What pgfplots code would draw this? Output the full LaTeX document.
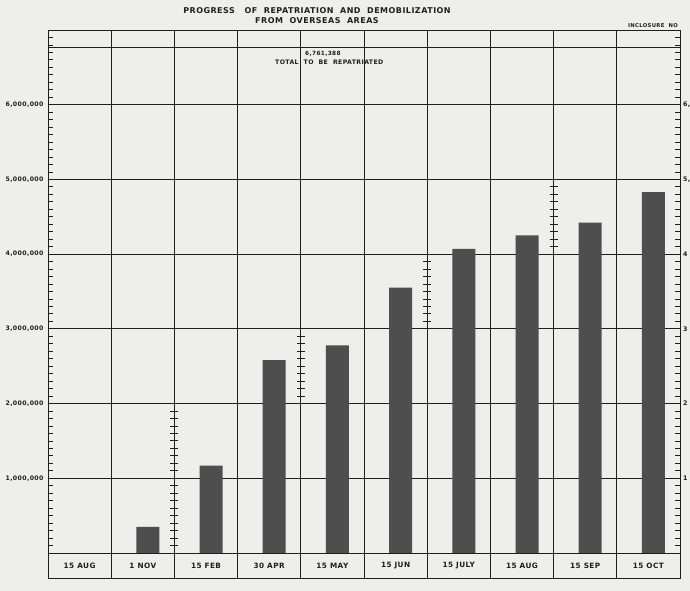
\documentclass[border=0pt]{standalone}
\usepackage{pgfplots}
\pgfplotsset{compat=1.18}
\usepackage{fontspec}
\setmainfont{DejaVu Sans}
\newfontfamily\lab[LetterSpace=6]{DejaVu Sans}
\definecolor{paper}{HTML}{EEEEEC}
\definecolor{ink}{HTML}{1E1E1E}
\definecolor{barcol}{HTML}{4E4E4E}
\tikzset{
  catlab/.style={font=\lab\bfseries\fontsize{7.3}{8}\selectfont, text=ink},
  rlab/.style={font=\lab\bfseries\fontsize{6.3}{7}\selectfont, text=ink, anchor=west, inner sep=0pt, xshift=3pt},
}
\begin{document}
\begin{tikzpicture}
\fill[paper] (-48pt,-13pt) rectangle (642pt,578pt);
\begin{axis}[
  scale only axis,
  width=632pt, height=548pt,
  xmin=-0.5, xmax=9.5,
  ymin=-0.335, ymax=7,
  xtick={-0.5,0.5,...,9.5},
  xticklabels={},
  ytick={0,1,2,3,4,5,6,6.761388},
  yticklabels={,{1,000,000},{2,000,000},{3,000,000},{4,000,000},{5,000,000},{6,000,000},},
  yticklabel style={font=\lab\bfseries\fontsize{6.2}{7}\selectfont, text=ink, xshift=-1pt},
  minor ytick={0.1,0.2,...,6.95},
  major tick length=0pt,
  minor tick length=5pt,
  tick align=inside,
  ytick pos=both,
  yticklabel pos=left,
  xmajorgrids, ymajorgrids,
  grid style={ink, line width=0.85pt},
  axis line style={ink, line width=0.95pt},
  minor tick style={ink, line width=0.8pt},
  /pgf/number format/assume math mode=true,
  clip=false,
]
% bars
\addplot[ybar, bar width=23pt, bar shift=5pt, fill=barcol, draw=none]
  coordinates {(1,0.35) (2,1.17) (3,2.58) (4,2.78) (5,3.55) (6,4.07) (7,4.25) (8,4.42) (9,4.83)};
% scale marks on vertical lines
\addplot[only marks, mark=-, mark size=4pt, ink, mark options={line width=0.9pt}]
  coordinates {(1.5,0.1)(1.5,0.2)(1.5,0.3)(1.5,0.4)(1.5,0.5)(1.5,0.6)(1.5,0.7)(1.5,0.8)(1.5,0.9)
               (1.5,1.1)(1.5,1.2)(1.5,1.3)(1.5,1.4)(1.5,1.5)(1.5,1.6)(1.5,1.7)(1.5,1.8)(1.5,1.9)
               (3.5,2.1)(3.5,2.2)(3.5,2.3)(3.5,2.4)(3.5,2.5)(3.5,2.6)(3.5,2.7)(3.5,2.8)(3.5,2.9)
               (5.5,3.1)(5.5,3.2)(5.5,3.3)(5.5,3.4)(5.5,3.5)(5.5,3.6)(5.5,3.7)(5.5,3.8)(5.5,3.9)
               (7.5,4.1)(7.5,4.2)(7.5,4.3)(7.5,4.4)(7.5,4.5)(7.5,4.6)(7.5,4.7)(7.5,4.8)(7.5,4.9)};
% category labels
\node[catlab] at (axis cs:0,-0.17) {15 AUG};
\node[catlab] at (axis cs:1,-0.17) {1 NOV};
\node[catlab] at (axis cs:2,-0.17) {15 FEB};
\node[catlab] at (axis cs:3,-0.17) {30 APR};
\node[catlab] at (axis cs:4,-0.17) {15 MAY};
\node[catlab] at (axis cs:5,-0.17) {15 JUN};
\node[catlab] at (axis cs:6,-0.17) {15 JULY};
\node[catlab] at (axis cs:7,-0.17) {15 AUG};
\node[catlab] at (axis cs:8,-0.17) {15 SEP};
\node[catlab] at (axis cs:9,-0.17) {15 OCT};
% annotation
\node[font=\lab\bfseries\fontsize{5.8}{7}\selectfont, text=ink] at (axis cs:3.85,6.68) {6,761,388};
\node[font=\lab\bfseries\fontsize{6.2}{7}\selectfont, text=ink] at (axis cs:3.95,6.565) {TOTAL\ \ TO\ \ BE\ \ REPATRIATED};
% right labels (cut off in the original)
\node[rlab] at (axis cs:9.5,1) {1};
\node[rlab] at (axis cs:9.5,2) {2};
\node[rlab] at (axis cs:9.5,3) {3};
\node[rlab] at (axis cs:9.5,4) {4};
\node[rlab] at (axis cs:9.5,5) {5,};
\node[rlab] at (axis cs:9.5,6) {6,};
\end{axis}
\node[font=\lab\bfseries\fontsize{8}{10}\selectfont, text=ink, align=center] at (269pt,562pt) {PROGRESS\ \ \ OF\ \ REPATRIATION\ \ AND\ \ DEMOBILIZATION\\FROM\ \ OVERSEAS\ \ AREAS};
\node[font=\lab\bfseries\fontsize{5.3}{7}\selectfont, text=ink] at (605pt,552pt) {INCLOSURE\ \ NO};
\pgfresetboundingbox
\path (-48pt,-13pt) rectangle (642pt,578pt);
\end{tikzpicture}
\end{document}
